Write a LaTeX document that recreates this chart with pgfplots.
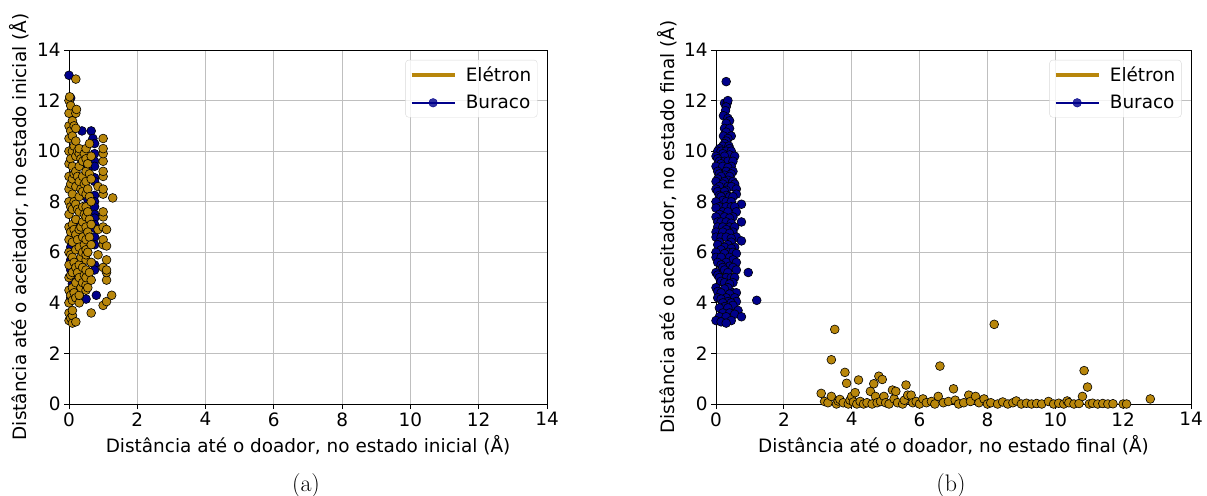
\documentclass[border=0pt]{standalone}
\usepackage{pgfplots}
\pgfplotsset{compat=1.18}
\usepackage{fontspec}
\newfontfamily\dejavu{DejaVu Sans}
\definecolor{gold}{RGB}{184,134,11}
\definecolor{dblue}{RGB}{0,0,139}
\pgfplotstableread{
x y
0 3.3
0 3.6
0 4.0
0 4.5
0 5.0
0 5.5
0 6.0
0 6.5
0 7.0
0 7.5
0 8.0
0 8.5
0 9.0
0 9.5
0 10.0
0 10.5
0 11.0
0 11.5
0 12.0
0.02 12.15
0.05 3.4
0.05 4.3
0.05 5.1
0.05 5.9
0.05 6.8
0.05 7.8
0.05 8.7
0.05 9.7
0.05 10.8
0.05 11.8
0.1 3.2
0.1 3.5
0.1 3.7
0.1 4.1
0.1 4.6
0.1 5.2
0.1 5.8
0.1 6.4
0.1 7.1
0.1 7.7
0.1 8.3
0.1 8.9
0.1 9.4
0.1 10.0
0.1 10.6
0.1 11.2
0.15 4.4
0.15 5.6
0.15 6.9
0.15 8.0
0.15 9.1
0.15 10.2
0.15 11.0
0.2 12.85
0.2 3.25
0.2 4.2
0.2 4.8
0.2 5.4
0.2 6.1
0.2 6.7
0.2 7.3
0.2 7.9
0.2 8.6
0.2 9.2
0.2 9.8
0.2 10.4
0.2 10.9
0.2 11.5
0.22 11.65
0.25 5.2
0.25 6.5
0.25 7.7
0.25 9.0
0.25 10.0
0.3 4.0
0.3 4.3
0.3 5.0
0.3 5.5
0.3 6.2
0.3 6.9
0.3 7.6
0.3 8.2
0.3 8.8
0.3 9.4
0.3 9.9
0.3 10.1
0.35 4.6
0.35 5.8
0.35 7.0
0.35 8.5
0.35 9.7
0.4 4.8
0.4 5.4
0.4 6.0
0.4 6.6
0.4 7.2
0.4 7.8
0.4 8.4
0.4 9.0
0.4 9.6
0.45 5.1
0.45 6.3
0.45 7.5
0.45 8.7
0.45 9.9
0.5 4.5
0.5 4.7
0.5 5.0
0.5 5.3
0.5 5.7
0.5 5.9
0.5 6.1
0.5 6.5
0.5 7.0
0.5 7.4
0.5 7.8
0.5 8.3
0.5 8.8
0.5 9.2
0.5 9.7
0.5 10.1
0.55 4.6
0.55 6.0
0.55 6.8
0.55 7.6
0.55 8.5
0.55 9.5
0.6 10.3
0.6 5.2
0.6 6.6
0.6 7.3
0.6 8.2
0.6 9.1
0.65 3.6
0.65 4.9
0.65 5.6
0.65 6.3
0.65 7.1
0.65 8.0
0.65 8.9
0.65 9.8
0.85 5.9
0.85 6.9
0.85 8.6
1.0 3.9
1.0 5.4
1.0 6.3
1.0 6.5
1.0 7.0
1.0 7.4
1.0 7.6
1.0 8.3
1.0 8.5
1.0 9.0
1.0 9.2
1.0 9.6
1.0 9.9
1.0 10.1
1.0 10.5
1.1 4.05
1.1 4.9
1.1 5.2
1.1 5.3
1.1 5.7
1.1 6.25
1.1 6.9
1.25 4.3
1.28 8.15
}\eleA
\pgfplotstableread{
x y
0 13.0
0.05 12.1
0.05 6.6
0.05 6.2
0.05 5.7
0.05 5.3
0.1 4.75
0.1 4.5
0.1 4.35
0.05 4.2
0.15 5.0
0.25 7.1
0.38 10.8
0.65 10.8
0.7 10.5
0.75 10.3
0.75 9.9
0.75 9.6
0.75 9.4
0.75 8.95
0.75 8.8
0.75 8.25
0.75 8.0
0.75 7.8
0.75 7.5
0.75 7.35
0.75 7.1
0.75 6.95
0.75 6.6
0.75 6.3
0.75 5.5
0.75 5.3
0.6 4.95
0.5 4.15
0.8 4.3
0.3 4.25
0.45 5.25
0.55 9.3
0.55 8.1
0.6 6.4
}\burA
\pgfplotstableread{
x y
3.1 0.42
3.2 0.1
3.3 0.05
3.4 0.3
3.4 1.75
3.5 2.95
3.55 0.0
3.6 0.12
3.65 0.18
3.75 0.05
3.8 1.25
3.85 0.82
3.9 0.0
3.95 0.15
4.0 0.3
4.05 0.08
4.1 0.45
4.15 0.0
4.2 0.95
4.25 0.1
4.35 0.0
4.45 0.05
4.55 0.5
4.6 0.0
4.65 0.8
4.7 0.3
4.75 0.05
4.8 1.1
4.85 0.1
4.9 0.97
4.95 0.3
5.0 0.05
5.1 0.0
5.2 0.55
5.25 0.2
5.3 0.5
5.35 0.05
5.5 0.0
5.55 0.15
5.6 0.75
5.65 0.35
5.75 0.35
5.8 0.05
5.9 0.1
6.0 0.0
6.1 0.2
6.2 0.05
6.35 0.1
6.45 0.0
6.55 0.3
6.6 1.5
6.7 0.05
6.85 0.1
7.0 0.6
7.05 0.15
7.15 0.0
7.3 0.05
7.45 0.35
7.5 0.1
7.65 0.3
7.75 0.05
7.9 0.2
8.0 0.0
8.1 0.05
8.2 3.15
8.3 0.0
8.45 0.08
8.6 0.0
8.75 0.05
8.85 0.12
9.0 0.0
9.15 0.03
9.3 0.0
9.45 0.02
9.6 0.0
9.8 0.1
9.95 0.0
10.1 0.03
10.25 0.0
10.35 0.12
10.4 0.05
10.55 0.0
10.7 0.02
10.8 0.3
10.85 1.32
10.95 0.67
11.0 0.0
11.1 0.03
11.25 0.0
11.4 0.02
11.55 0.0
11.7 0.01
12.0 0.0
12.1 0.0
12.8 0.2
}\eleB
\pgfplotstableread{
x y
0.3 12.75
0.25 11.9
0.33 11.9
0.35 12.0
0.3 11.75
0.28 11.6
0.22 11.4
0.35 11.3
0.4 11.2
0.3 11.1
0.25 10.9
0.4 10.9
0.3 10.75
0.22 10.6
0.45 10.6
0.35 10.5
0.3 10.4
0.25 10.3
0.2 10.2
0.38 10.2
0.1 10.1
0.4 10.1
0.05 10.0
0.15 10.0
0.3 10.0
0.45 10.0
0.2 9.9
0.4 9.85
0.0 9.8
0.25 9.8
0.55 9.8
0.05 9.7
0.1 9.6
0.25 9.6
0.35 9.6
0.5 9.6
0.15 9.5
0.0 9.4
0.2 9.4
0.45 9.4
0.35 9.35
0.05 9.2
0.3 9.2
0.5 9.2
0.1 9.1
0.45 9.1
0.25 9.05
0.15 9.0
0.4 9.0
0.05 8.9
0.35 8.85
0.0 8.8
0.25 8.8
0.5 8.8
0.2 8.7
0.55 8.7
0.1 8.6
0.35 8.6
0.45 8.6
0.0 8.5
0.6 8.5
0.3 8.45
0.05 8.4
0.25 8.4
0.6 8.3
0.1 8.25
0.3 8.25
0.15 8.2
0.4 8.2
0.5 8.2
0.2 8.05
0.0 8.0
0.3 8.0
0.45 8.0
0.75 7.9
0.1 7.8
0.3 7.8
0.45 7.8
0.55 7.8
0.0 7.75
0.2 7.6
0.35 7.6
0.6 7.6
0.1 7.5
0.0 7.4
0.25 7.4
0.5 7.4
0.4 7.35
0.05 7.2
0.15 7.2
0.3 7.2
0.75 7.2
0.45 7.15
0.05 7.0
0.2 7.0
0.4 7.0
0.55 7.0
0.3 6.9
0.0 6.8
0.2 6.8
0.5 6.8
0.4 6.75
0.0 6.6
0.15 6.6
0.3 6.6
0.6 6.6
0.45 6.55
0.75 6.45
0.1 6.4
0.45 6.4
0.05 6.3
0.35 6.3
0.25 6.2
0.55 6.2
0.45 6.15
0.15 6.1
0.0 6.0
0.35 6.0
0.5 6.0
0.25 5.95
0.6 5.95
0.0 5.8
0.15 5.8
0.4 5.8
0.5 5.7
0.05 5.6
0.3 5.6
0.6 5.6
0.15 5.5
0.4 5.45
0.2 5.4
0.5 5.4
0.25 5.3
0.6 5.3
0.0 5.2
0.35 5.2
0.95 5.2
0.05 5.1
0.1 5.0
0.3 5.0
0.45 5.0
0.55 5.0
0.15 4.85
0.25 4.8
0.5 4.8
0.4 4.75
0.0 4.6
0.35 4.6
0.25 4.55
0.05 4.45
0.15 4.4
0.5 4.4
0.6 4.4
0.4 4.35
0.05 4.2
0.3 4.2
0.55 4.2
0.15 4.15
1.2 4.1
0.35 4.05
0.6 4.05
0.2 4.0
0.45 4.0
0.5 3.9
0.25 3.85
0.1 3.8
0.35 3.8
0.65 3.7
0.2 3.6
0.4 3.6
0.55 3.55
0.75 3.45
0.1 3.45
0.3 3.45
0.45 3.3
0.0 3.3
0.15 3.25
0.3 3.2
}\burB
\pgfplotsset{
  myax/.style={
    scale only axis, height=354bp,
    xmin=0, xmax=14, ymin=0, ymax=14,
    xtick={0,2,...,14}, ytick={0,2,...,14},
    grid=major, grid style={color=black!25, line width=0.8bp},
    axis line style={black, line width=0.8bp},
    tick align=outside, tick pos=left,
    major tick length=5bp,
    tick style={black, line width=0.8bp},
    /pgf/number format/assume math mode=true,
    every tick label/.append style={font=\dejavu\fontsize{18.5}{22}\selectfont},
    label style={font=\dejavu\fontsize{18.5}{22}\selectfont},
    x label style={at={(axis description cs:0.5,-0.138)}, anchor=base},
    legend style={at={(0.98,0.972)}, anchor=north east, draw=black!15, rounded corners=3bp,
      font=\dejavu\fontsize{18.5}{22}\selectfont, fill=white, fill opacity=0.8, text opacity=1,
      row sep=8bp, inner xsep=4bp, inner ysep=5bp},
    legend cell align=left,
    clip=true,
  },
  gmark/.style={only marks, mark=*, mark size=4.4bp, mark options={fill=gold, draw=black, line width=0.6bp}},
  bmark/.style={only marks, mark=*, mark size=4.4bp, mark options={fill=dblue, draw=black, line width=0.6bp}},
  eleimg/.style={legend image code/.code={\draw[gold, line width=4bp] (0bp,0bp) -- (43bp,0bp); \path (52bp,0bp);}},
  burimg/.style={legend image code/.code={\draw[dblue, line width=1.5bp] (0bp,0bp) -- (43bp,0bp); \fill[dblue] (21.5bp,0bp) circle (4.3bp); \path (52bp,0bp);}},
}
\begin{document}
\begin{tikzpicture}
\path[use as bounding box] (0,0) rectangle (1207bp,496bp);
\begin{axis}[myax, width=478bp, at={(69bp,92bp)}, anchor=south west,
  xlabel={Distância até o doador, no estado inicial (Å)},
  ylabel={Distância até o aceitador, no estado inicial (Å)},
  y label style={at={(axis description cs:-0.088,0.5)}, anchor=base, rotate=0}]
\addlegendimage{eleimg}
\addlegendentry{Elétron}
\addlegendimage{burimg}
\addlegendentry{Buraco}
\addplot[bmark, forget plot] table[x=x, y=y] {\burA};
\addplot[gmark, forget plot] table[x=x, y=y] {\eleA};
\end{axis}
\begin{axis}[myax, width=475bp, at={(716bp,92bp)}, anchor=south west,
  xlabel={Distância até o doador, no estado final (Å)},
  ylabel={Distância até o aceitador, no estado final (Å)},
  y label style={at={(axis description cs:-0.0884,0.5)}, anchor=base, rotate=0}]
\addlegendimage{eleimg}
\addlegendentry{Elétron}
\addlegendimage{burimg}
\addlegendentry{Buraco}
\addplot[gmark, forget plot] table[x=x, y=y] {\eleB};
\addplot[bmark, forget plot] table[x=x, y=y] {\burB};
\end{axis}
\node[anchor=base, font=\fontsize{24}{28}\selectfont] at (306bp,5bp) {(a)};
\node[anchor=base, font=\fontsize{24}{28}\selectfont] at (951bp,5bp) {(b)};
\end{tikzpicture}
\end{document}
